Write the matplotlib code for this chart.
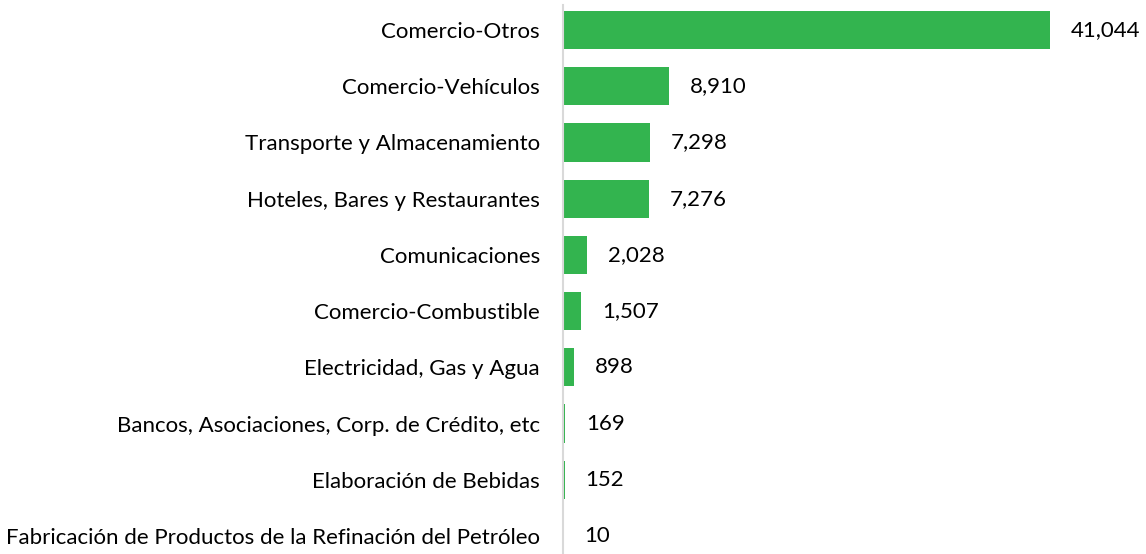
import matplotlib.pyplot as plt

categories = [
    "Comercio-Otros",
    "Comercio-Vehículos",
    "Transporte y Almacenamiento",
    "Hoteles, Bares y Restaurantes",
    "Comunicaciones",
    "Comercio-Combustible",
    "Electricidad, Gas y Agua",
    "Bancos, Asociaciones, Corp. de Crédito, etc",
    "Elaboración de Bebidas",
    "Fabricación de Productos de la Refinación del Petróleo",
]
values = [41044, 8910, 7298, 7276, 2028, 1507, 898, 169, 152, 10]

plt.rcParams["font.family"] = ["Lato", "DejaVu Sans"]
FS = 16

fig = plt.figure(figsize=(11.46, 5.54), dpi=100)
ax = fig.add_axes([563 / 1146, 0, 1 - 563 / 1146, 549 / 554])

ypos = list(range(len(categories)))
ax.barh(ypos, values, height=0.68, color="#33B44F")
for y, v in zip(ypos, values):
    ax.annotate(f"{v:,}", (v, y), xytext=(15, 0), textcoords="offset points",
                ha="left", va="center", fontsize=FS, color="#000000")

ax.set_xlim(0, 41044 * (1146 - 563) / 487)
ax.set_ylim(9.32, -0.445)
ax.set_yticks(ypos)
ax.set_yticklabels(categories, fontsize=FS)
ax.tick_params(axis="y", length=0, pad=16.5)
ax.set_xticks([])
for s in ["top", "right", "bottom"]:
    ax.spines[s].set_visible(False)
ax.spines["left"].set_color("#d9d9d9")
ax.spines["left"].set_linewidth(1.5)

fig.savefig("out.png", dpi=100)
